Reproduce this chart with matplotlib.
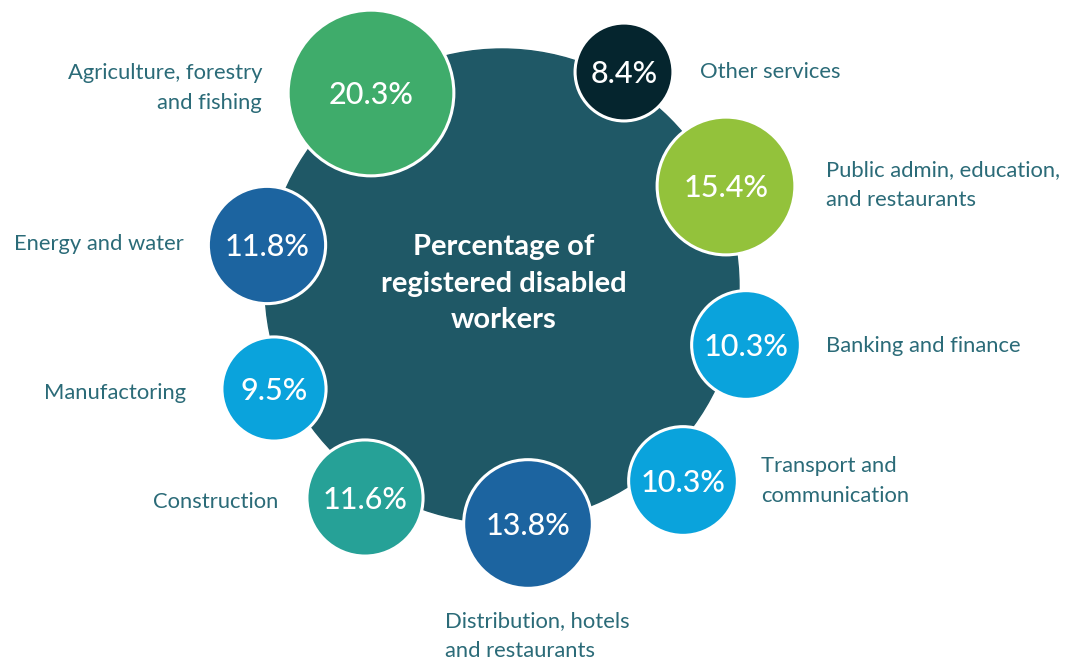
import matplotlib
matplotlib.use("Agg")
import matplotlib.pyplot as plt
from matplotlib.patches import Circle

plt.rcParams['font.family'] = ['Lato', 'DejaVu Sans']

# data
sectors = ['Agriculture, forestry\nand fishing', 'Other services',
           'Public admin, education,\nand restaurants', 'Energy and water',
           'Banking and finance', 'Manufactoring', 'Transport and\ncommunication',
           'Construction', 'Distribution, hotels\nand restaurants']
shares = [20.3, 8.4, 15.4, 11.8, 10.3, 9.5, 10.3, 11.6, 13.8]
title = 'Percentage of\nregistered disabled\nworkers'

# layout (pixel coords, y down)
centres = [(371, 93), (624, 72), (726, 186), (267, 245), (746, 345),
           (274, 389), (683, 481), (365, 498), (528, 524)]
label_pos = [(262, 88, 'right'), (700, 72, 'left'), (826, 185, 'left'),
             (184, 244, 'right'), (826, 346, 'left'), (186, 393, 'right'),
             (761, 481, 'left'), (278, 502, 'right'), (445, 636, 'left')]
colours = ['#3fac6b', '#05252e', '#93c23b', '#1c64a0', '#0aa3dc',
           '#0aa3dc', '#0aa3dc', '#26a197', '#1c64a0']
label_col = '#2b6b78'

fig = plt.figure(figsize=(10.72, 6.62), dpi=100)
ax = fig.add_axes([0, 0, 1, 1])
ax.set_xlim(0, 1072)
ax.set_ylim(662, 0)
ax.set_aspect('equal')
ax.axis('off')

ax.add_patch(Circle((502, 286), 237, color='#1f5866', zorder=1))
ax.text(504, 284, title, color='white', fontsize=21, fontweight='bold',
        ha='center', va='center', linespacing=1.5, zorder=2)

for i, v in enumerate(shares):
    r = 25 + 2.85 * v
    ax.add_patch(Circle(centres[i], r, facecolor=colours[i], edgecolor='white',
                        lw=2.2, zorder=3))
    ax.text(centres[i][0], centres[i][1] + 2, '%.1f%%' % v, color='white',
            fontsize=22, fontweight='medium', ha='center', va='center', zorder=4)
    lx, ly, ha = label_pos[i]
    ax.text(lx, ly, sectors[i], color=label_col, fontsize=15.8, ha=ha,
            va='center', linespacing=1.6, multialignment=ha, zorder=4)

fig.savefig('out.png', dpi=100)
